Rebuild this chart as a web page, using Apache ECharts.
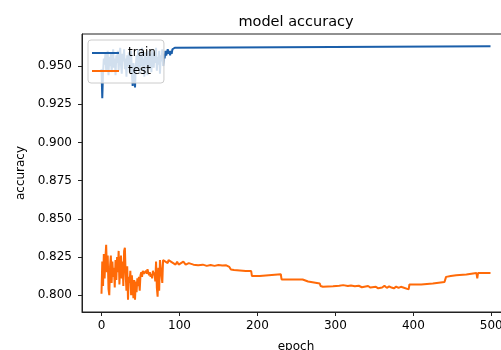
<!DOCTYPE html>
<html lang="en" style="height: 100%">

<head>
    <meta charset="utf-8" />
    <script src="https://cdn.jsdelivr.net/npm/echarts@6/dist/echarts.min.js"></script>
</head>

<body style="height: 100%; margin: 0; background: #fff">
    <div id="container" style="width: 501px;height: 350px;"></div>
    <script type="text/javascript">
        // tick labels
        const xTicks = [0, 100, 200, 300, 400, 500];
        const yTicks = [0.800, 0.825, 0.850, 0.875, 0.900, 0.925, 0.950];

        // train accuracy, epochs 0..95 (noisy part)
        const trainEarly = [
            0.948, 0.929, 0.946, 0.955, 0.951, 0.958, 0.947, 0.953, 0.960, 0.944,
            0.956, 0.950, 0.958, 0.946, 0.954, 0.961, 0.949, 0.955, 0.944, 0.957,
            0.952, 0.960, 0.947, 0.956, 0.962, 0.951, 0.945, 0.958, 0.953, 0.961,
            0.948, 0.955, 0.943, 0.957, 0.950, 0.959, 0.946, 0.954, 0.960, 0.945,
            0.937, 0.952, 0.944, 0.936, 0.950, 0.957, 0.948, 0.961, 0.953, 0.945,
            0.958, 0.950, 0.962, 0.947, 0.955, 0.943, 0.959, 0.951, 0.956, 0.944,
            0.960, 0.952, 0.948, 0.958, 0.946, 0.961, 0.954, 0.949, 0.959, 0.952,
            0.962, 0.947, 0.956, 0.951, 0.960, 0.945, 0.957, 0.953, 0.961, 0.950,
            0.958, 0.955, 0.960, 0.957, 0.959, 0.961, 0.958, 0.960, 0.957, 0.960,
            0.958, 0.961, 0.960, 0.962, 0.962, 0.963
        ];
        // train accuracy after it settles: [epoch, value]
        const trainLate = [[96, 0.963], [499, 0.963]];

        // test accuracy, epochs 0..99 (noisy part)
        const testEarly = [
            0.801, 0.822, 0.806, 0.827, 0.811, 0.824, 0.833, 0.815, 0.826, 0.804,
            0.800, 0.819, 0.826, 0.808, 0.822, 0.812, 0.818, 0.805, 0.823, 0.810,
            0.825, 0.815, 0.829, 0.807, 0.820, 0.826, 0.811, 0.822, 0.806, 0.829,
            0.831, 0.814, 0.803, 0.819, 0.797, 0.812, 0.808, 0.816, 0.800, 0.813,
            0.805, 0.798, 0.810, 0.797, 0.809, 0.802, 0.811, 0.806, 0.812, 0.803,
            0.813, 0.815, 0.812, 0.816, 0.814, 0.815, 0.813, 0.816, 0.814, 0.817,
            0.815, 0.813, 0.815, 0.812, 0.814, 0.811, 0.816, 0.813, 0.815, 0.809,
            0.822, 0.805, 0.799, 0.818, 0.803, 0.823, 0.824, 0.823, 0.808, 0.823,
            0.824, 0.823, 0.822, 0.823, 0.822, 0.821, 0.823, 0.822, 0.823, 0.822,
            0.821, 0.822, 0.821, 0.822, 0.821, 0.820, 0.821, 0.822, 0.821, 0.820
        ];
        // test accuracy, stepped part: [epoch, value]
        const testLate = [
            [100, 0.821], [105, 0.822], [108, 0.820], [112, 0.821], [118, 0.820],
            [124, 0.8196], [130, 0.8200], [135, 0.8192], [140, 0.8198], [145, 0.8192],
            [150, 0.8198], [155, 0.8194], [160, 0.8196], [164, 0.8185], [166, 0.8168],
            [170, 0.8165], [172, 0.8158], [185, 0.8158], [192, 0.8158], [193, 0.8125],
            [203, 0.8125], [204, 0.8137], [230, 0.8137], [231, 0.8103], [258, 0.8103],
            [259, 0.8090], [265, 0.8090], [266, 0.8077], [280, 0.8077], [281, 0.8060],
            [284, 0.8055], [285, 0.8042], [286, 0.8058], [297, 0.8058], [298, 0.8065],
            [305, 0.8062], [310, 0.8066], [316, 0.8060], [320, 0.8064], [325, 0.8058],
            [330, 0.8062], [334, 0.8052], [336, 0.8062], [342, 0.8060], [345, 0.8050],
            [347, 0.8062], [352, 0.8055], [355, 0.8045], [357, 0.8058], [360, 0.8050],
            [363, 0.8062], [366, 0.8048], [369, 0.8058], [372, 0.8050], [375, 0.8045],
            [378, 0.8056], [381, 0.8048], [384, 0.8055], [387, 0.8050], [389, 0.8038],
            [394, 0.8038], [395, 0.8070], [410, 0.8070], [412, 0.8075], [425, 0.8077],
            [426, 0.8087], [440, 0.8087], [442, 0.8120], [448, 0.8125], [455, 0.8130],
            [468, 0.8135], [470, 0.8145], [481, 0.8145], [482, 0.8110], [483, 0.8145],
            [499, 0.8145]
        ];

        const trainData = trainEarly.map((v, i) => [i, v]).concat(trainLate);
        const testData = testEarly.map((v, i) => [i, v]).concat(testLate);

        const font = 'DejaVu Sans';
        const axisColor = '#222';

        var dom = document.getElementById('container');
        var myChart = echarts.init(dom, null, { renderer: 'canvas' });

        var option = {
            animation: false,
            backgroundColor: '#fff',
            color: ['#1b5faa', '#ff6a08'],
            title: {
                text: 'model accuracy',
                left: 296,
                top: 15,
                padding: 0,
                textAlign: 'center',
                textStyle: { fontFamily: font, fontSize: 14.5, fontWeight: 'normal', color: '#000' }
            },
            legend: {
                orient: 'vertical',
                left: 88,
                top: 40,
                padding: [7, 8, 6, 4],
                itemGap: 6,
                itemWidth: 27,
                itemHeight: 2,
                icon: 'rect',
                backgroundColor: 'rgba(255,255,255,0.8)',
                borderColor: '#ccc',
                borderWidth: 1,
                borderRadius: 3,
                textStyle: { fontFamily: font, fontSize: 12, color: '#000', padding: [0, 0, 0, 4] },
                data: ['train', 'test']
            },
            grid: {
                left: 82,
                top: 34,
                width: 428,
                bottom: 38,
                outerBoundsMode: 'none',
                containLabel: false,
                show: true,
                borderColor: axisColor,
                borderWidth: 1
            },
            xAxis: {
                type: 'value',
                min: -25,
                max: 524,
                name: 'epoch',
                nameLocation: 'middle',
                nameGap: 29,
                nameTextStyle: { fontFamily: font, fontSize: 12, color: '#000' },
                axisLine: { show: true, onZero: false, lineStyle: { color: axisColor, width: 1 } },
                axisTick: { show: true, inside: false, length: 4, customValues: xTicks, lineStyle: { color: axisColor } },
                axisLabel: { customValues: xTicks, margin: 8, fontFamily: font, fontSize: 12, color: '#000' },
                splitLine: { show: false }
            },
            yAxis: {
                type: 'value',
                min: 0.789,
                max: 0.971,
                name: 'accuracy',
                nameLocation: 'middle',
                nameGap: 54,
                nameTextStyle: { fontFamily: font, fontSize: 12, color: '#000' },
                axisLine: { show: true, onZero: false, lineStyle: { color: axisColor, width: 1 } },
                axisTick: { show: true, inside: false, length: 4, customValues: yTicks, lineStyle: { color: axisColor } },
                axisLabel: {
                    customValues: yTicks,
                    margin: 10,
                    fontFamily: font,
                    fontSize: 12,
                    color: '#000',
                    formatter: function (v) { return v.toFixed(3); }
                },
                splitLine: { show: false }
            },
            series: [{
                    name: 'train',
                    type: 'line',
                    showSymbol: false,
                    symbol: 'none',
                    lineStyle: { width: 2 },
                    data: trainData
                },
                {
                    name: 'test',
                    type: 'line',
                    showSymbol: false,
                    symbol: 'none',
                    lineStyle: { width: 2 },
                    data: testData
                }
            ]
        };

        if (option && typeof option === 'object') {
            myChart.setOption(option);
        }

        window.addEventListener('resize', myChart.resize);
    </script>
</body>

</html>
